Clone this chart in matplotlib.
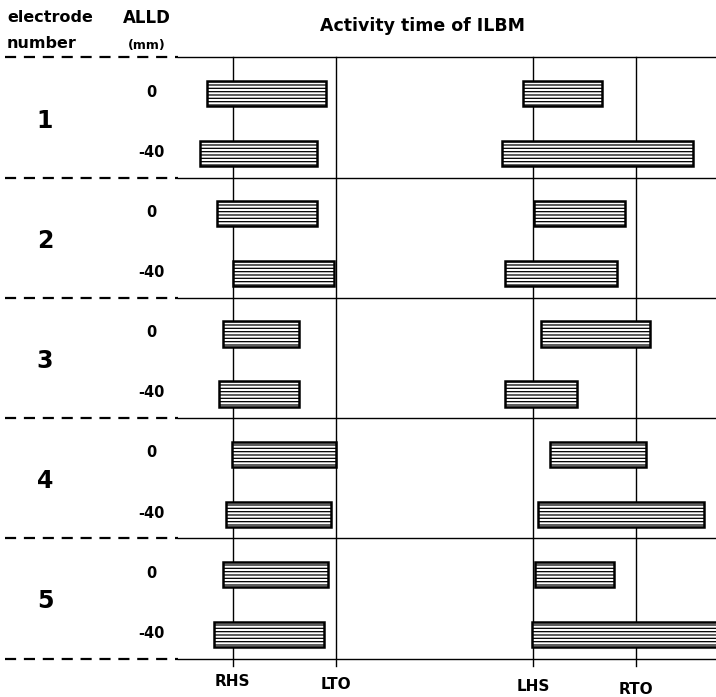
import matplotlib.pyplot as plt

# ---------------- data ----------------
electrodes = ["1", "2", "3", "4", "5"]
alld_mm = ["0", "-40"]

# gait events, time in % of gait cycle (RHS = 0, LHS = 50)
events = ["RHS", "LTO", "LHS", "RTO"]
event_time = [0.0, 17.2, 50.0, 67.2]

# one row per electrode / ALLD pair: 1/0, 1/-40, 2/0, 2/-40, ...
burst1_on = [-4.3, -5.5, -2.7, 0.0, -1.7, -2.3, -0.2, -1.2, -1.7, -3.2]
burst1_off = [15.5, 14.0, 14.0, 16.8, 11.0, 11.0, 17.2, 16.3, 15.8, 15.2]
burst2_on = [48.3, 44.8, 50.2, 45.3, 51.3, 45.3, 52.8, 50.8, 50.3, 49.8]
burst2_off = [61.5, 76.7, 65.3, 64.0, 69.5, 57.3, 68.8, 78.5, 63.5, 84.0]


def main():
    plt.rcParams["font.family"] = ["DejaVu Sans"]
    plt.rcParams["hatch.linewidth"] = 0.9

    fig = plt.figure(figsize=(7.16, 6.97), dpi=100)
    ax = fig.add_axes([0, 0, 1, 1])
    ax.set_xlim(-38.8, 80.5)
    ax.set_ylim(10.04, -1.556)
    ax.axis("off")

    n_rows = len(electrodes) * len(alld_mm)
    rows = list(range(n_rows))

    # separators: dashed under the labels, solid under the bars
    for k in range(len(electrodes) + 1):
        y = 2 * k - 0.6
        ax.plot([-38.0, -9.2], [y, y], color="black", lw=1.6, ls=(0, (5, 3.5)))
        ax.plot([-9.2, 80.5], [y, y], color="black", lw=1.0)

    # gait event lines
    for t in event_time:
        ax.plot([t, t], [-0.6, 9.53], color="black", lw=1.0)

    w1 = [b - a for a, b in zip(burst1_on, burst1_off)]
    w2 = [b - a for a, b in zip(burst2_on, burst2_off)]
    for left, width in ((burst1_on, w1), (burst2_on, w2)):
        ax.barh(rows, width, left=left, height=0.42, color="white",
                edgecolor="black", hatch="-----", linewidth=1.8, zorder=3)

    # electrode numbers and ALLD labels
    for i, e in enumerate(electrodes):
        ax.text(-31.3, 2 * i + 0.45, e, ha="center", va="center",
                fontsize=17, fontweight="heavy")
        for j, a in enumerate(alld_mm):
            ax.text(-13.5, 2 * i + j - 0.02, a, ha="center", va="center",
                    fontsize=10.5, fontweight="bold")

    # event labels
    label_y = [9.78, 9.83, 9.86, 9.92]
    for t, name, y in zip(event_time, events, label_y):
        ax.text(t, y, name, ha="center", va="center", fontsize=11,
                fontweight="bold")

    # header
    fig.text(7 / 716, 1 - 18 / 697, "electrode", ha="left", va="center",
             fontsize=11.5, fontweight="bold")
    fig.text(123 / 716, 1 - 18 / 697, "ALLD", ha="left", va="center",
             fontsize=12, fontweight="bold")
    fig.text(7 / 716, 1 - 44 / 697, "number", ha="left", va="center",
             fontsize=11.5, fontweight="bold")
    fig.text(128 / 716, 1 - 45 / 697, "(mm)", ha="left", va="center",
             fontsize=9, fontweight="bold")
    fig.text(423 / 716, 1 - 26 / 697, "Activity time of ILBM", ha="center",
             va="center", fontsize=12.5, fontweight="bold")

    fig.savefig("out.png", dpi=100)


if __name__ == "__main__":
    main()
